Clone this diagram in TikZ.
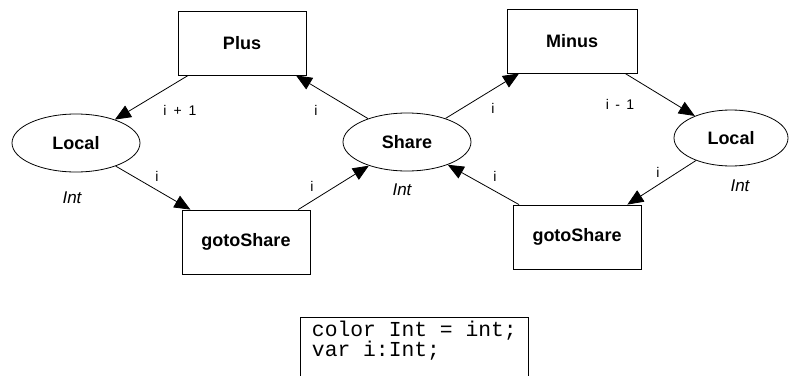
\documentclass[tikz,border=0pt]{standalone}
\usepackage{fontspec}
\setmainfont{Liberation Sans}
\setmonofont{Liberation Mono}
\usetikzlibrary{shapes.geometric, arrows.meta}

\begin{document}
\begin{tikzpicture}[
        x = 0.75pt, y = -0.75pt,
        every node/.style = {align=center, inner sep=0pt},
        place/.style = {ellipse, draw, line width=0.6pt, minimum width=96pt, minimum height=43.5pt,
            font=\fontsize{13.5}{16}\selectfont\bfseries},
        trans/.style = {rectangle, draw, line width=0.6pt, minimum width=96pt, minimum height=48pt,
            font=\fontsize{13.5}{16}\selectfont\bfseries},
        lbl/.style = {font=\fontsize{10.5}{12}\selectfont},
        colset/.style = {font=\fontsize{12.75}{15}\selectfont\itshape},
        codebox/.style = {rectangle, draw, line width=0.6pt, align=left, anchor=north west,
            minimum width=171pt, inner xsep=5pt, inner ysep=3pt,
            font=\fontsize{16}{15}\selectfont\ttfamily},
        line/.style = {draw, line width=0.6pt, -{Triangle[length=12pt, width=10pt]}}
    ]
    \path [use as bounding box] (0,0) rectangle (789,375);
    \clip (0,0) rectangle (789,375);

    % Nodes
    \node (plus) [trans] at (242,43) {Plus};
    \node (llocal) [place] at (76,143) {Local};
    \node (lgoto) [trans] at (246,242) {gotoShare};
    \node (share) [place] at (407,142) {Share};
    \node (minus) [trans, minimum width=97.5pt] at (572,41) {Minus};
    \node (rlocal) [place, minimum width=85.5pt, minimum height=42pt] at (731,138) {Local};
    \node (rgoto) [trans] at (577,237) {gotoShare};

    % Colour sets
    \node (llocalset) [colset] at (72,198) {Int};
    \node (shareset) [colset] at (402,190) {Int};
    \node (rlocalset) [colset] at (740,186) {Int};

    % Lines
    \path [line] (plus) -- (llocal);
    \path [line] (llocal) -- (lgoto);
    \path [line] (lgoto) -- (share);
    \path [line] (share) -- (plus);
    \path [line] (share) -- (minus);
    \path [line] (minus) -- (rlocal);
    \path [line] (rlocal) -- (rgoto);
    \path [line] (rgoto) -- (share);

    % Arc inscriptions
    \node (incr) [lbl] at (180,110) {i\hspace{0.5em}+\hspace{0.5em}1};
    \node (toplus) [lbl] at (316,110) {i};
    \node (tolgoto) [lbl] at (157,176) {i};
    \node (fromlgoto) [lbl] at (312,186) {i};
    \node (tominus) [lbl] at (493,108) {i};
    \node (decr) [lbl] at (620,104) {i\hspace{0.45em}-\hspace{0.45em}1};
    \node (fromrgoto) [lbl] at (495,176) {i};
    \node (torgoto) [lbl] at (658,172) {i};

    % Declarations
    \node (decl) [codebox] at (300,317) {color Int = int;\\var i:Int;\\\strut};
\end{tikzpicture}
\end{document}
